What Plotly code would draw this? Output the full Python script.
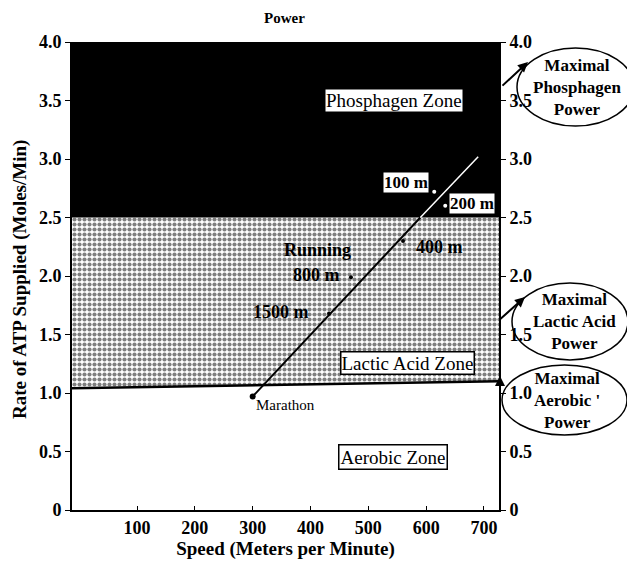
import plotly.graph_objects as go

# axis ranges / ticks
x_range = [-12.5, 726]
y_range = [0, 4.0]
x_ticks = [100, 200, 300, 400, 500, 600, 700]
y_ticks = [0, 0.5, 1.0, 1.5, 2.0, 2.5, 3.0, 3.5, 4.0]
y_ticktext = ["0", "0.5", "1.0", "1.5", "2.0", "2.5", "3.0", "3.5", "4.0"]

# zone boundaries
aerobic_top = [1.04, 1.10]   # left edge, right edge (slightly tilted)
phosphagen_bottom = 2.5

# running line (speed m/min, ATP rate) : below / above the 2.5 boundary
line_speed_low = [300, 590]
line_rate_low = [0.97, 2.50]
line_speed_high = [590, 690]
line_rate_high = [2.50, 3.02]

# event markers
event_names = ["1500 m", "800 m", "400 m", "200 m", "100 m"]
event_speed = [432, 470, 560, 633, 614]
event_rate = [1.68, 1.99, 2.30, 2.60, 2.72]

FONT = "Liberation Serif"

fig = go.Figure()

x0, x1 = x_range
# lactic acid zone (dotted)
fig.add_trace(go.Scatter(
    x=[x0, x1, x1, x0, x0],
    y=[aerobic_top[0], aerobic_top[1], phosphagen_bottom, phosphagen_bottom, aerobic_top[0]],
    mode="lines", line=dict(width=0), fill="toself",
    fillcolor="white",
    fillpattern=dict(shape=".", fgcolor="black", bgcolor="white", size=5, solidity=0.55),
    hoverinfo="skip", showlegend=False))
# phosphagen zone (black)
fig.add_trace(go.Scatter(
    x=[x0, x1, x1, x0, x0],
    y=[phosphagen_bottom, phosphagen_bottom, y_range[1], y_range[1], phosphagen_bottom],
    mode="lines", line=dict(width=0), fill="toself", fillcolor="black",
    hoverinfo="skip", showlegend=False))
# aerobic boundary
fig.add_trace(go.Scatter(
    x=[x0, x1], y=aerobic_top, mode="lines",
    line=dict(color="black", width=2.5), hoverinfo="skip", showlegend=False))

# running line
fig.add_trace(go.Scatter(
    x=line_speed_low, y=line_rate_low, mode="lines",
    line=dict(color="black", width=2), showlegend=False))
fig.add_trace(go.Scatter(
    x=line_speed_high, y=line_rate_high, mode="lines",
    line=dict(color="white", width=1.5), showlegend=False))
# marathon dot
fig.add_trace(go.Scatter(
    x=[line_speed_low[0]], y=[line_rate_low[0]], mode="markers",
    marker=dict(color="black", size=6), showlegend=False))
# events
ev_colors = ["black" if r < phosphagen_bottom else "white" for r in event_rate]
fig.add_trace(go.Scatter(
    x=event_speed, y=event_rate, mode="markers",
    marker=dict(color=ev_colors, size=4), showlegend=False))

# right axis anchor trace
fig.add_trace(go.Scatter(
    x=x_range, y=y_range, yaxis="y2", mode="lines",
    line=dict(width=0), opacity=0, hoverinfo="skip", showlegend=False))

lab = dict(family=FONT, size=15, color="black")
bold = dict(family=FONT, size=18, color="black", weight="bold")
zone = dict(family=FONT, size=19, color="black")

annotations = [
    dict(x=545, y=3.50, text="Phosphagen Zone", showarrow=False, bgcolor="white",
         font=zone, borderpad=0),
    dict(x=568, y=1.26, text="Lactic Acid Zone", showarrow=False, bgcolor="white",
         bordercolor="black", borderwidth=1.5, borderpad=0, font=zone),
    dict(x=543, y=0.45, text="Aerobic Zone", showarrow=False, bgcolor="white",
         bordercolor="black", borderwidth=1.5, borderpad=1, font=zone),
    dict(x=302, y=0.90, text="Marathon", showarrow=False, xanchor="left", font=lab),
    dict(x=400, y=1.69, text="1500 m", showarrow=False, xanchor="right", font=bold),
    dict(x=412, y=2.22, text="Running", showarrow=False, xanchor="center", font=bold),
    dict(x=455, y=2.01, text="800 m", showarrow=False, xanchor="right", font=bold),
    dict(x=579, y=2.25, text="400 m", showarrow=False, xanchor="left", font=bold),
    dict(x=640, y=2.62, text="200 m", showarrow=False, xanchor="left",
         bgcolor="white", borderpad=0, font=dict(bold, size=17)),
    dict(x=566, y=2.80, text="100 m", showarrow=False, xanchor="center",
         bgcolor="white", borderpad=0, font=dict(bold, size=17)),
]
for a in annotations:
    a["yanchor"] = "middle"

# paper helpers (plot area 70..497 x 42..510 px in the screenshot)
def px(v):
    return (v - 70) / 427.0

def py(v):
    return (510 - v) / 468.0

ell_text = dict(family=FONT, size=17, color="black", weight="bold")
paper_notes = [
    dict(x=px(575), y=py(87), text="Maximal<br>Phosphagen<br>Power", showarrow=False, font=ell_text),
    dict(x=px(572), y=py(321), text="Maximal<br>Lactic Acid<br>Power", showarrow=False, font=ell_text),
    dict(x=px(565), y=py(400), text="Maximal<br>Aerobic '<br>Power", showarrow=False, font=ell_text),
    # arrows from axis to the ellipses
    dict(x=px(526), y=py(62), ax=-27, ay=25, showarrow=True, arrowhead=2, arrowsize=1,
         arrowwidth=2, arrowcolor="black", text=""),
    dict(x=px(523), y=py(297), ax=-27, ay=24, showarrow=True, arrowhead=2, arrowsize=1,
         arrowwidth=2, arrowcolor="black", text=""),
    dict(x=px(498), y=py(376), ax=0, ay=14, showarrow=True, arrowhead=2, arrowsize=1,
         arrowwidth=2, arrowcolor="black", text=""),
    # header and y title
    dict(x=px(282), y=py(18), text="Power", showarrow=False,
         font=dict(family=FONT, size=15, color="black", weight="bold")),
    dict(x=px(18), y=py(280), textangle=-90, text="Rate of ATP Supplied (Moles/Min)",
         showarrow=False, font=dict(family=FONT, size=19, color="black", weight="bold")),
]
for a in paper_notes:
    a.update(xref="paper", yref="paper", xanchor="center", yanchor="middle")
annotations += paper_notes

shapes = [
    dict(type="circle", xref="paper", yref="paper",
         x0=px(515), x1=px(632), y0=py(126), y1=py(48), line=dict(color="black", width=1.5)),
    dict(type="circle", xref="paper", yref="paper",
         x0=px(510), x1=px(626), y0=py(360), y1=py(283), line=dict(color="black", width=1.5)),
    dict(type="circle", xref="paper", yref="paper",
         x0=px(500), x1=px(625), y0=py(435), y1=py(365), line=dict(color="black", width=1.5)),
]

tickfont = dict(family=FONT, size=18, color="black", weight="bold")
# page body has an 8px margin, so the figure is 8px smaller than the window
fig.update_layout(
    width=627, height=556,
    margin=dict(l=64, r=136, t=34, b=54),
    paper_bgcolor="white", plot_bgcolor="white",
    xaxis=dict(range=x_range, tickvals=x_ticks, ticks="inside", ticklen=4,
               tickcolor="black", showgrid=False, zeroline=False,
               showline=True, linecolor="black", linewidth=2, tickfont=tickfont,
               title=dict(text="Speed (Meters per Minute)", standoff=2,
                          font=dict(family=FONT, size=19, color="black", weight="bold"))),
    yaxis=dict(range=y_range, tickvals=y_ticks, ticktext=y_ticktext, ticks="outside",
               ticklen=5, tickcolor="black", showgrid=False, zeroline=False,
               showline=True, linecolor="black", linewidth=2, tickfont=tickfont),
    yaxis2=dict(range=y_range, tickvals=y_ticks, ticktext=y_ticktext, overlaying="y",
                side="right", ticks="outside", ticklen=5, tickcolor="black",
                showgrid=False, zeroline=False, showline=True, linecolor="black",
                linewidth=2, tickfont=tickfont),
    annotations=annotations,
    shapes=shapes,
)

fig.write_html("out.html")
